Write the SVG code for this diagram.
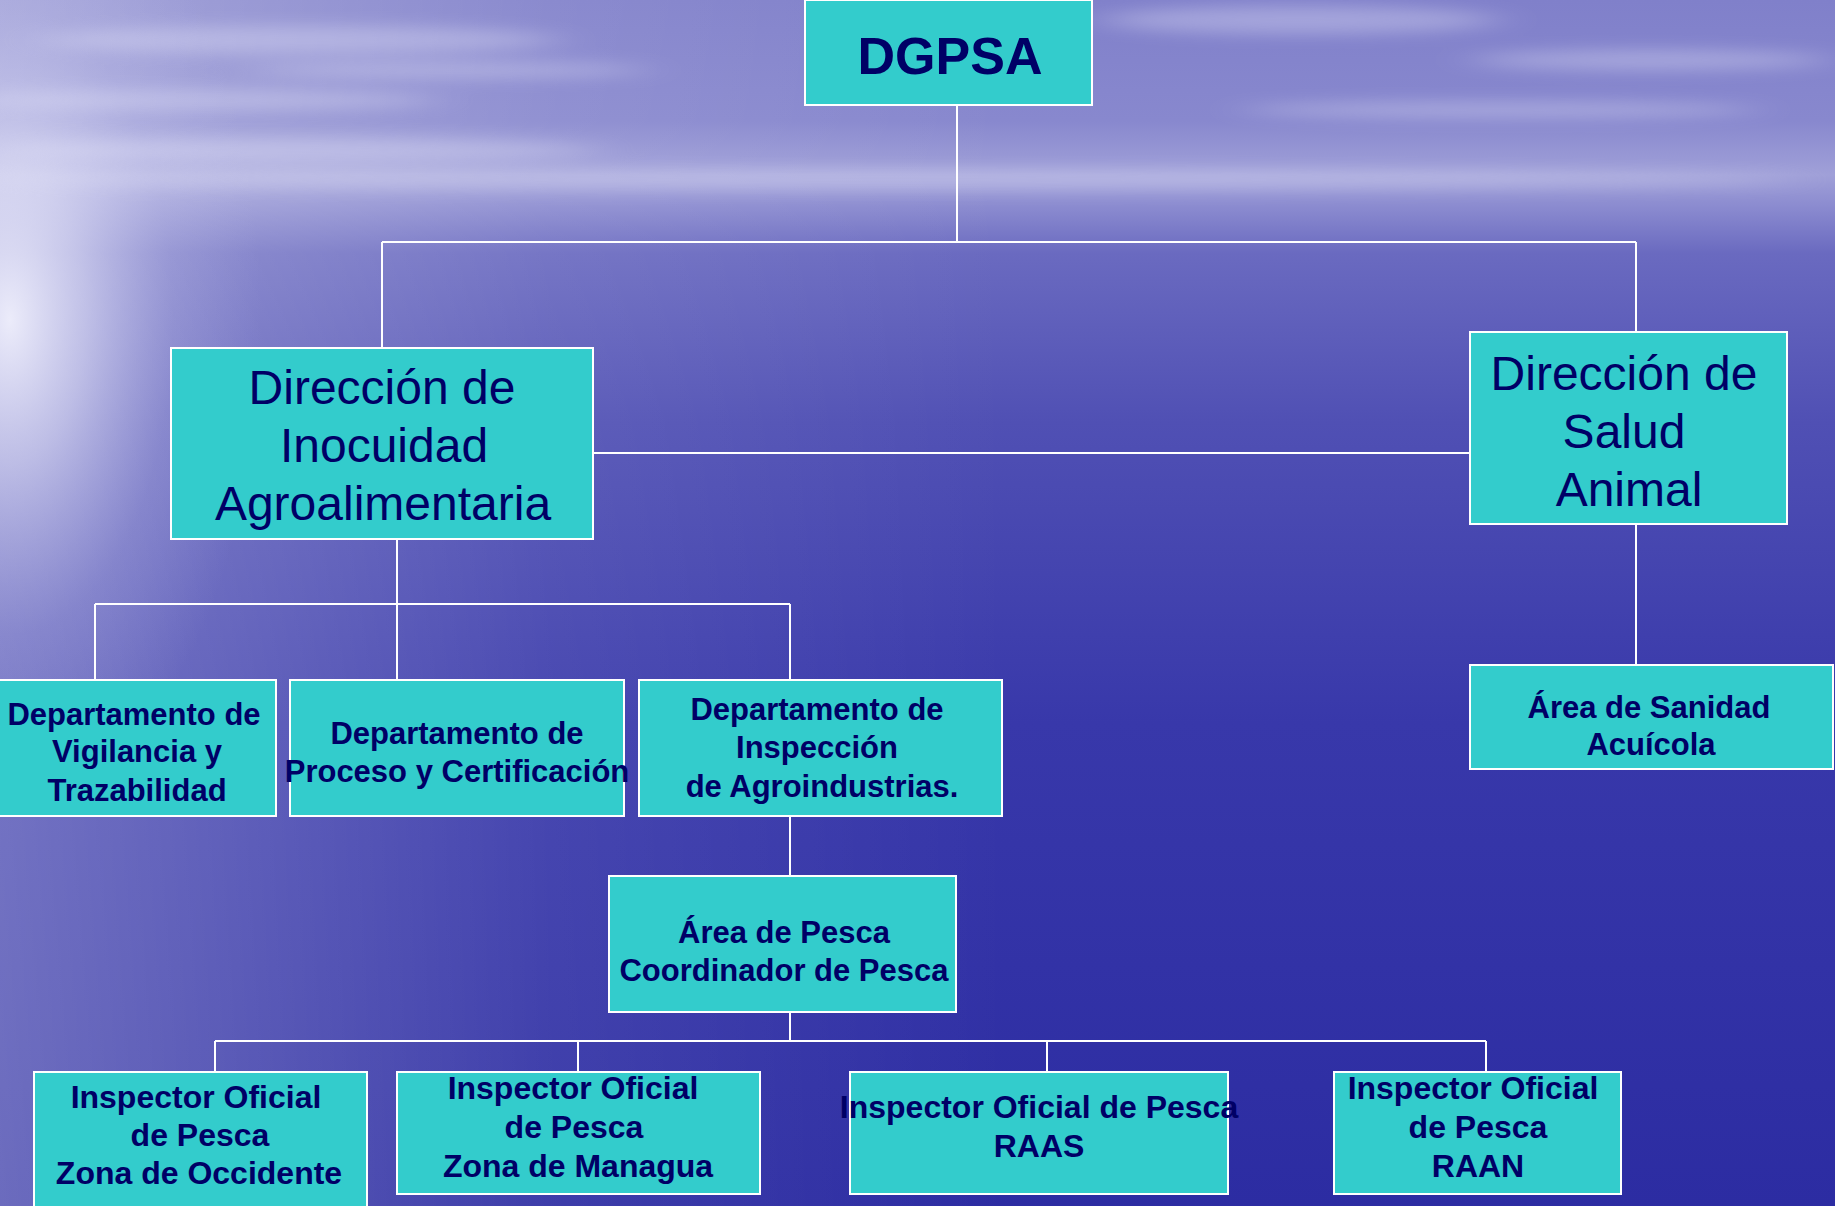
<svg xmlns="http://www.w3.org/2000/svg" width="1835" height="1206" viewBox="0 0 1835 1206">
<defs>
<linearGradient id="sky" x1="0" y1="0" x2="0" y2="1">
<stop offset="0" stop-color="#8080ca"/>
<stop offset="0.10" stop-color="#8888ce"/>
<stop offset="0.145" stop-color="#a0a0d8"/>
<stop offset="0.17" stop-color="#8c8cd0"/>
<stop offset="0.21" stop-color="#6a6ac0"/>
<stop offset="0.35" stop-color="#5050b4"/>
<stop offset="0.6" stop-color="#3838aa"/>
<stop offset="1" stop-color="#2c2ca2"/>
</linearGradient>
<linearGradient id="lside" x1="0" y1="0" x2="1" y2="0">
<stop offset="0" stop-color="#ffffff" stop-opacity="0.3"/>
<stop offset="0.3" stop-color="#ffffff" stop-opacity="0.08"/>
<stop offset="0.55" stop-color="#ffffff" stop-opacity="0"/>
</linearGradient>
<radialGradient id="glow" gradientUnits="userSpaceOnUse" cx="0" cy="0" r="420" gradientTransform="translate(10 320) scale(0.6 1.15)">
<stop offset="0" stop-color="#f6f6ff" stop-opacity="0.9"/>
<stop offset="0.3" stop-color="#e4e4f8" stop-opacity="0.6"/>
<stop offset="0.65" stop-color="#c8c8ee" stop-opacity="0.2"/>
<stop offset="1" stop-color="#c0c0ec" stop-opacity="0"/>
</radialGradient>
<filter id="blur" x="-30%" y="-300%" width="160%" height="700%"><feGaussianBlur stdDeviation="24 8"/></filter>
<style>
.box{fill:#33cccc;stroke:#ffffff;stroke-width:2}
.ln{stroke:#ffffff;stroke-width:2;fill:none}
.t{font-family:"Liberation Sans",Arial,sans-serif;fill:#000066;text-anchor:middle}
.big{font-size:48px}
.b{font-weight:bold;font-size:31px}
.bb{font-weight:bold;font-size:32px}
</style>
</defs>
<rect x="0" y="0" width="1835" height="1206" fill="url(#sky)"/>
<rect x="0" y="0" width="1835" height="1206" fill="url(#lside)"/>
<rect x="0" y="0" width="1835" height="1206" fill="url(#glow)"/>
<g fill="#e6e6fa" filter="url(#blur)" opacity="0.35">
<ellipse cx="300" cy="40" rx="260" ry="14"/>
<ellipse cx="200" cy="100" rx="240" ry="10"/>
<ellipse cx="450" cy="70" rx="200" ry="8"/>
<ellipse cx="1300" cy="20" rx="200" ry="14"/>
<ellipse cx="1650" cy="60" rx="180" ry="10"/>
<ellipse cx="1500" cy="110" rx="260" ry="8"/>
<ellipse cx="900" cy="180" rx="900" ry="10"/>
<ellipse cx="300" cy="150" rx="300" ry="12"/>
</g>
<g id="connectors">
<line class="ln" x1="957" y1="105" x2="957" y2="242"/>
<line class="ln" x1="382" y1="242" x2="1636" y2="242"/>
<line class="ln" x1="382" y1="242" x2="382" y2="348"/>
<line class="ln" x1="1636" y1="242" x2="1636" y2="332"/>
<line class="ln" x1="593" y1="453" x2="1470" y2="453"/>
<line class="ln" x1="397" y1="539" x2="397" y2="604"/>
<line class="ln" x1="95" y1="604" x2="790" y2="604"/>
<line class="ln" x1="95" y1="604" x2="95" y2="680"/>
<line class="ln" x1="397" y1="604" x2="397" y2="680"/>
<line class="ln" x1="790" y1="604" x2="790" y2="680"/>
<line class="ln" x1="1636" y1="524" x2="1636" y2="665"/>
<line class="ln" x1="790" y1="816" x2="790" y2="876"/>
<line class="ln" x1="790" y1="1012" x2="790" y2="1041"/>
<line class="ln" x1="215" y1="1041" x2="1486" y2="1041"/>
<line class="ln" x1="215" y1="1041" x2="215" y2="1072"/>
<line class="ln" x1="578" y1="1041" x2="578" y2="1072"/>
<line class="ln" x1="1047" y1="1041" x2="1047" y2="1072"/>
<line class="ln" x1="1486" y1="1041" x2="1486" y2="1072"/>
</g>
<g id="dgpsa">
<rect class="box" x="805" y="0" width="287" height="105"/>
<text class="t" x="950" y="74" style="font-size:52px;font-weight:bold">DGPSA</text>
</g>
<g id="inocuidad">
<rect class="box" x="171" y="348" width="422" height="191"/>
<text class="t big" x="382" y="404">Dirección de</text>
<text class="t big" x="384" y="462">Inocuidad</text>
<text class="t big" x="383" y="520">Agroalimentaria</text>
</g>
<g id="salud">
<rect class="box" x="1470" y="332" width="317" height="192"/>
<text class="t big" x="1624" y="390">Dirección de</text>
<text class="t big" x="1624" y="448">Salud</text>
<text class="t big" x="1629" y="506">Animal</text>
</g>
<g id="vigilancia">
<rect class="box" x="-2" y="680" width="278" height="136"/>
<text class="t b" x="134" y="725">Departamento de</text>
<text class="t b" x="137" y="762">Vigilancia y</text>
<text class="t b" x="137" y="801">Trazabilidad</text>
</g>
<g id="proceso">
<rect class="box" x="290" y="680" width="334" height="136"/>
<text class="t b" x="457" y="744">Departamento de</text>
<text class="t b" x="457" y="782">Proceso y Certificación</text>
</g>
<g id="agroindustrias">
<rect class="box" x="639" y="680" width="363" height="136"/>
<text class="t b" x="817" y="720">Departamento de</text>
<text class="t b" x="817" y="758">Inspección</text>
<text class="t b" x="822" y="797">de Agroindustrias.</text>
</g>
<g id="acuicola">
<rect class="box" x="1470" y="665" width="363" height="104"/>
<text class="t b" x="1649" y="718">Área de Sanidad</text>
<text class="t b" x="1651" y="755">Acuícola</text>
</g>
<g id="pesca">
<rect class="box" x="609" y="876" width="347" height="136"/>
<text class="t b" x="784" y="943">Área de Pesca</text>
<text class="t b" x="784" y="981">Coordinador de Pesca</text>
</g>
<g id="occidente">
<rect class="box" x="34" y="1072" width="333" height="140"/>
<text class="t bb" x="196" y="1108">Inspector Oficial</text>
<text class="t bb" x="200" y="1146">de Pesca</text>
<text class="t bb" x="199" y="1184">Zona de Occidente</text>
</g>
<g id="managua">
<rect class="box" x="397" y="1072" width="363" height="122"/>
<text class="t bb" x="573" y="1099">Inspector Oficial</text>
<text class="t bb" x="574" y="1138">de Pesca</text>
<text class="t bb" x="578" y="1177">Zona de Managua</text>
</g>
<g id="raas">
<rect class="box" x="850" y="1072" width="378" height="122"/>
<text class="t bb" x="1039" y="1118">Inspector Oficial de Pesca</text>
<text class="t bb" x="1039" y="1157">RAAS</text>
</g>
<g id="raan">
<rect class="box" x="1334" y="1072" width="287" height="122"/>
<text class="t bb" x="1473" y="1099">Inspector Oficial</text>
<text class="t bb" x="1478" y="1138">de Pesca</text>
<text class="t bb" x="1478" y="1177">RAAN</text>
</g>
</svg>
